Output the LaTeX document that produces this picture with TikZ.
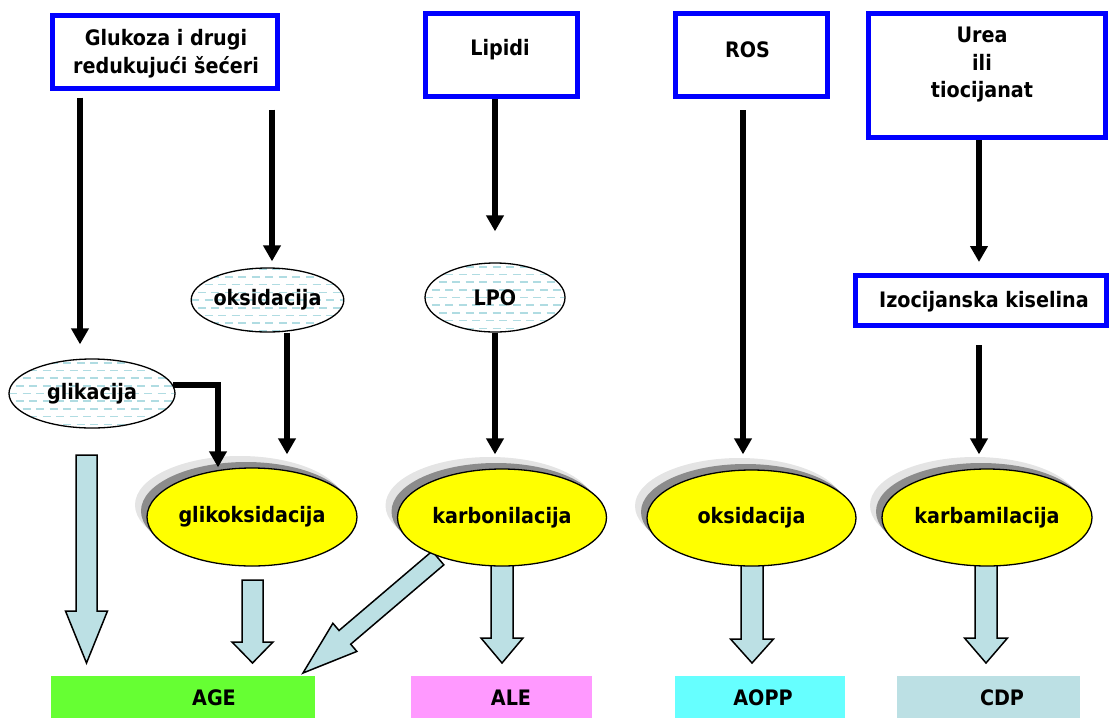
\documentclass[tikz,border=0pt]{standalone}
\usepackage{fontspec}
\setmainfont{DejaVu Sans Condensed}
\usetikzlibrary{calc,arrows.meta,shapes.geometric}
\definecolor{boxblue}{HTML}{0000FF}
\definecolor{dashc}{HTML}{B0DCE2}
\definecolor{arrowfill}{HTML}{BCE0E4}
\definecolor{agec}{HTML}{66FF33}
\definecolor{alec}{HTML}{FF99FF}
\definecolor{aoppc}{HTML}{66FFFF}
\definecolor{cdpc}{HTML}{BCE0E4}
\definecolor{shlight}{HTML}{E4E4E4}
\definecolor{shdark}{HTML}{8C8C8C}
\definecolor{yelc}{HTML}{FFFF00}
\newcommand\blockarrow[5]{%
  \coordinate (bh) at ($(#2)!#5!(#1)$);
  \draw[barr] ($(#1)!#3!90:(#2)$) -- ($(bh)!#3!90:(#2)$) -- ($(bh)!#4!90:(#2)$) -- (#2)
    -- ($(bh)!#4!-90:(#2)$) -- ($(bh)!#3!-90:(#2)$) -- ($(#1)!#3!-90:(#2)$) -- cycle;}
\begin{document}
\begin{tikzpicture}[x=1pt,y=-1pt,
  txt/.style={font=\bfseries\fontsize{21.3}{27.5}\selectfont, align=center, inner sep=0pt},
  bluebox/.style={draw=boxblue, line width=5pt, rectangle, inner sep=0pt},
  blk/.style={line width=5.5pt, -{Triangle[length=16pt,width=17pt]}},
  dotell/.style={ellipse, draw, line width=1.3pt, fill=white, inner sep=0pt, txt,
    path picture={
      \foreach \k in {-8,-6,...,8}
        \draw[dashc, line width=1.6pt, dash pattern=on 8pt off 5.5pt]
          ([yshift={\k*7.7pt}]path picture bounding box.west) -- ([yshift={\k*7.7pt}]path picture bounding box.east);
      \foreach \k in {-7,-5,...,7}
        \draw[dashc, line width=1.6pt, dash pattern=on 8pt off 5.5pt, dash phase=6.7pt]
          ([yshift={\k*7.7pt}]path picture bounding box.west) -- ([yshift={\k*7.7pt}]path picture bounding box.east);
    }},
  yell/.style={ellipse, draw, line width=1.3pt, fill=yelc, inner sep=0pt, txt},
  barr/.style={draw, line width=1.5pt, fill=arrowfill, line join=miter},
  res/.style={rectangle, inner sep=0pt, minimum height=42pt},
]
\useasboundingbox (0,0) rectangle (1110,718);

% top boxes
\node[bluebox, minimum width=225pt, minimum height=73pt] (glu) at (165,51.7) {};
\node[txt] (glut) at (166,53.5) {Glukoza i drugi\\redukujući šećeri};
\node[bluebox, minimum width=152pt, minimum height=83pt] (lip) at (501.5,55) {};
\node[txt] (lipt) at (500,50) {Lipidi};
\node[bluebox, minimum width=152pt, minimum height=83pt] (ros) at (751.5,55) {};
\node[txt] (rost) at (747.5,50) {ROS};
\node[bluebox, minimum width=237pt, minimum height=124pt] (urea) at (987,75.5) {};
\node[txt] (ureat) at (982,65) {Urea\\ili\\tiocijanat};
\node[bluebox, minimum width=251pt, minimum height=50pt] (izo) at (981,300.5) {};
\node[txt] (izot) at (984,302) {Izocijanska kiselina};

% result boxes
\node[res, fill=agec, minimum width=264pt] (age) at (183,697) {};
\node[txt] (aget) at (214,698) {AGE};
\node[res, fill=alec, minimum width=181pt] (ale) at (501.5,697) {};
\node[txt] (alet) at (511,698) {ALE};
\node[res, fill=aoppc, minimum width=170pt] (aopp) at (760,697) {};
\node[txt] (aoppt) at (763,698) {AOPP};
\node[res, fill=cdpc, minimum width=183pt] (cdp) at (988.5,697) {};
\node[txt] (cdpt) at (1002,698) {CDP};

% block arrows
\coordinate (bs1) at (86.5,455); \coordinate (bt1) at (86.5,663);
\coordinate (bs2) at (252.5,580); \coordinate (bt2) at (252.5,663);
\coordinate (bs3) at (438,558); \coordinate (bt3) at (303,673);
\coordinate (bs4) at (502,555); \coordinate (bt4) at (502,663);
\coordinate (bs5) at (752,555); \coordinate (bt5) at (752,663);
\coordinate (bs6) at (986,555); \coordinate (bt6) at (986,663);
\blockarrow{bs1}{bt1}{10.5pt}{21pt}{52pt}
\blockarrow{bs2}{bt2}{10.5pt}{20.5pt}{21pt}
\blockarrow{bs3}{bt3}{9pt}{18.5pt}{55pt}
\blockarrow{bs4}{bt4}{11pt}{21pt}{25pt}
\blockarrow{bs5}{bt5}{11pt}{21.5pt}{24pt}
\blockarrow{bs6}{bt6}{11pt}{21.5pt}{25pt}

% shadows
\foreach \cx/\cy/\rx/\ry in {252/517/105/49, 502/517.5/104.5/48.5, 751.5/518/104.5/48, 987/517.5/105/48.5}{
  \fill[shlight] (\cx-12,\cy-12) ellipse [x radius=\rx pt, y radius=\ry pt];
  \fill[shdark] (\cx-6,\cy-6) ellipse [x radius=\rx pt, y radius=\ry pt];
}

% yellow ellipses
\node[yell, minimum width=210pt, minimum height=98pt] (glo) at (252,517) {glikoksidacija};
\node[yell, minimum width=209pt, minimum height=97pt] (kar) at (502,517.5) {karbonilacija};
\node[yell, minimum width=209pt, minimum height=96pt] (ox) at (751.5,518) {oksidacija};
\node[yell, minimum width=210pt, minimum height=97pt] (kbm) at (987,517.5) {karbamilacija};

% dotted ellipses
\node[dotell, minimum width=166pt, minimum height=69pt] (glik) at (92,393.5) {glikacija};
\node[dotell, minimum width=151pt, minimum height=64pt] (oks) at (267.5,300) {oksidacija};
\node[dotell, minimum width=140pt, minimum height=69pt] (lpo) at (495,297.5) {LPO};

% black arrows
\draw[blk, shorten <=7pt, shorten >=14pt] (glu.south -| 80,0) -- (glik.north -| 80,0);
\draw[blk, shorten <=19pt, shorten >=6pt] (glu.south -| 272,0) -- (oks.north -| 272,0);
\draw[blk, shorten >=13pt] (oks.south -| 287,0) -- (glo.north -| 287,0);
\draw[blk] (glik.6) -| (glo.north -| 218,0);
\draw[blk, shorten >=31pt] (lip.south -| 495,0) -- (lpo.north -| 495,0);
\draw[blk, shorten >=14pt] (lpo.south -| 495,0) -- (kar.north -| 495,0);
\draw[blk, shorten <=11pt, shorten >=15pt] (ros.south -| 743,0) -- (ox.north -| 743,0);
\draw[blk, shorten >=11pt] (urea.south -| 979,0) -- (izo.north -| 979,0);
\draw[blk, shorten <=17pt, shorten >=14pt] (izo.south -| 979,0) -- (kbm.north -| 979,0);
\end{tikzpicture}
\end{document}
